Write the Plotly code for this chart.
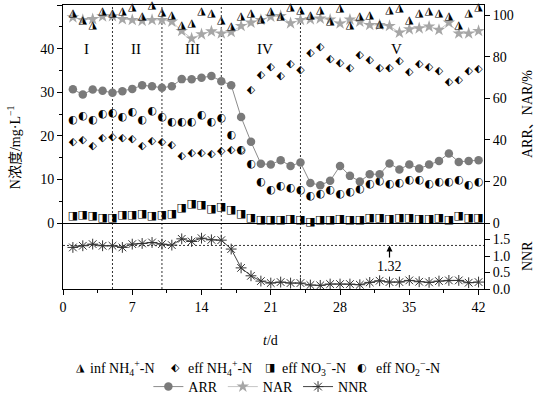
import plotly.graph_objects as go

# ---------------- data ----------------
days = [1, 2, 3, 4, 5, 6, 7, 8, 9, 10, 11, 12, 13, 14, 15, 16, 17, 18, 19, 20, 21,
        22, 23, 24, 25, 26, 27, 28, 29, 30, 31, 32, 33, 34, 35, 36, 37, 38, 39, 40, 41, 42]

inf_nh4 = [48.2, 46.4, 45.4, 48.5, 48.2, 48.5, 49.4, 47.5, 50.0, 48.4, 47.7, 45.4, 45.9, 48.5,
           48.1, 46.4, 45.2, 47.5, 48.2, 46.7, 48.5, 47.5, 49.5, 48.9, 47.7, 48.9, 46.2, 49.3,
           45.4, 47.5, 47.7, 45.6, 48.7, 49.2, 46.5, 48.1, 48.5, 48.1, 47.4, 45.4, 48.2, 49.5]
eff_nh4 = [18.6, 19.0, 17.7, 19.5, 19.7, 19.5, 19.2, 17.6, 18.7, 18.5, 17.8, 15.4, 16.0, 16.1,
           15.7, 16.4, 16.7, 16.6, 30.5, 33.9, 35.7, 33.7, 36.4, 35.1, 38.9, 40.3, 37.5, 36.7,
           35.5, 38.5, 37.4, 35.5, 35.5, 37.2, 34.5, 36.4, 35.8, 34.7, 32.2, 32.8, 34.7, 35.2]
eff_no3 = [1.5, 1.8, 1.6, 1.2, 1.0, 1.8, 1.8, 1.9, 1.6, 1.8, 1.9, 3.3, 4.3, 4.1,
           3.1, 3.7, 2.9, 2.0, 1.2, 0.6, 0.6, 0.6, 0.85, 0.6, 0.2, 0.6, 0.6, 0.8,
           0.6, 0.6, 1.0, 1.0, 0.85, 1.2, 1.2, 0.85, 0.85, 1.2, 0.6, 1.5, 1.2, 1.2]
eff_no2 = [23.6, 24.5, 23.6, 25.0, 25.1, 24.3, 25.3, 23.6, 25.7, 24.3, 23.0, 23.0, 23.0, 24.6,
           23.2, 24.0, 20.1, 16.6, 13.4, 9.4, 7.5, 8.4, 7.9, 7.5, 6.1, 6.5, 7.4, 6.7,
           7.1, 7.7, 9.0, 9.6, 9.0, 9.2, 9.8, 9.7, 8.9, 9.4, 9.4, 9.8, 8.7, 9.4]
arr = [64.4, 61.9, 64.3, 63.7, 62.7, 63.5, 64.6, 66.3, 65.9, 65.1, 65.9, 69.3, 69.2, 70.0,
       70.8, 68.3, 66.4, 51.0, 39.1, 28.5, 28.2, 30.2, 27.5, 29.1, 19.3, 18.2, 20.3, 27.5,
       22.7, 20.0, 23.5, 23.5, 28.7, 25.8, 28.2, 26.2, 28.2, 29.9, 33.5, 29.4, 29.9, 30.2]
nar = [99.1, 97.8, 98.2, 99.5, 99.6, 98.2, 97.8, 97.4, 97.8, 97.8, 97.0, 92.5, 88.9, 90.9,
       92.3, 91.3, 92.0, 94.9, 96.5, 97.8, 99.4, 99.7, 96.2, 97.8, 98.1, 98.5, 98.0, 96.1,
       98.0, 97.0, 95.4, 95.4, 94.9, 91.7, 93.3, 93.8, 94.6, 93.0, 96.5, 91.3, 91.3, 92.5]
nnr = [1.26, 1.31, 1.36, 1.31, 1.31, 1.26, 1.36, 1.38, 1.41, 1.36, 1.33, 1.52, 1.44, 1.54,
       1.49, 1.48, 1.21, 0.64, 0.40, 0.24, 0.18, 0.21, 0.18, 0.18, 0.12, 0.11, 0.15, 0.15,
       0.15, 0.13, 0.20, 0.25, 0.21, 0.21, 0.26, 0.22, 0.20, 0.24, 0.26, 0.26, 0.19, 0.21]

phase_bounds = [5, 10, 16, 24]
phase_names = ["I", "II", "III", "IV", "V"]
phase_label_x = [2.4, 7.4, 13.1, 20.4, 33.7]
phase_label_y = 40
nnr_ref = 1.32
nnr_ref_label_x = 33.0

x_range = [0, 42.55]
conc_range = [0, 50]
pct_range = [0, 105]
nnr_range = [0, 2.0]
nnr_ticks = [0, 0.5, 1.0, 1.5]
nnr_ticktext = ["0.0", "0.5", "1.0", "1.5"]

# ---------------- style ----------------
SERIF = "Liberation Serif, Times New Roman, Noto Sans CJK SC, serif"
SYM = "DejaVu Sans"
FS = 14
split = 66 / 284

fig = go.Figure()

# effluent N concentrations: half-filled glyph markers on the left axis (x, y)
half_series = [
    (eff_no3, "\u25E8"),
    (eff_no2, "\u25D0"),
    (eff_nh4, "\u2B16"),
]
for vals, glyph in half_series:
    fig.add_trace(go.Scatter(
        x=days, y=vals, mode="text", text=[glyph] * len(vals),
        textposition="middle center",
        textfont=dict(family=SYM, size=11, color="black"),
        xaxis="x", yaxis="y", showlegend=False, cliponaxis=False))

# ARR / NAR on the right axis (x, y2)
fig.add_trace(go.Scatter(
    x=days, y=arr, name="ARR", mode="lines+markers", xaxis="x", yaxis="y2",
    line=dict(color="#8c8c8c", width=1),
    marker=dict(symbol="circle", size=8.5, color="#7a7a7a")))
fig.add_trace(go.Scatter(
    x=days, y=nar, name="NAR", mode="lines+markers", xaxis="x", yaxis="y2",
    line=dict(color="#b8b8b8", width=0.8),
    marker=dict(symbol="star", size=9.5, color="#a6a6a6")))

# influent NH4 drawn on a hidden overlay of the left axis so it sits above NAR
fig.add_trace(go.Scatter(
    x=days, y=inf_nh4, mode="text", text=["\u25EE"] * len(inf_nh4),
    textposition="middle center",
    textfont=dict(family=SYM, size=11, color="black"),
    xaxis="x", yaxis="y4", showlegend=False, cliponaxis=False))

# NNR in the lower panel (x2, y3)
fig.add_trace(go.Scatter(
    x=days, y=nnr, name="NNR", mode="lines+markers", xaxis="x2", yaxis="y3",
    line=dict(color="#444444", width=1),
    marker=dict(symbol="asterisk-open", size=9, color="#333333",
                line=dict(width=1, color="#333333"))))

tickfont = dict(family=SERIF, size=FS, color="black")
tfont = dict(family=SERIF, size=FS, color="black")

shapes = []
for b in phase_bounds:
    shapes.append(dict(type="line", xref="x", yref="paper", x0=b, x1=b, y0=0, y1=1,
                       line=dict(color="#333333", width=1, dash="2px,2px"), layer="below"))
shapes.append(dict(type="line", xref="x2 domain", yref="y3", x0=0, x1=1,
                   y0=nnr_ref, y1=nnr_ref,
                   line=dict(color="#333333", width=1, dash="2px,2px"), layer="below"))

annotations = []
for name, px in zip(phase_names, phase_label_x):
    annotations.append(dict(x=px, y=phase_label_y, xref="x", yref="y", text=name,
                            xanchor="center", yanchor="middle",
                            showarrow=False, font=dict(family=SERIF, size=15, color="black")))
annotations.append(dict(x=nnr_ref_label_x, y=nnr_ref, xref="x2", yref="y3", text="1.32",
                        showarrow=True, arrowhead=2, arrowsize=1, arrowwidth=1.2,
                        arrowcolor="black", ax=0, ay=21, standoff=0, font=tfont))
annotations.append(dict(x=-0.116, y=0.5, xref="paper", yref="paper",
                        xanchor="center", yanchor="middle",
                        text="N浓度/mg·L<sup>−1</sup>", textangle=-90, showarrow=False,
                        font=tfont))
annotations.append(dict(x=1.102, y=0.616, xref="paper", yref="paper",
                        xanchor="center", yanchor="middle",
                        text="ARR、NAR/%", textangle=-90, showarrow=False, font=tfont))
annotations.append(dict(x=1.102, y=0.116, xref="paper", yref="paper",
                        xanchor="center", yanchor="middle",
                        text="NNR", textangle=-90, showarrow=False, font=tfont))
annotations.append(dict(x=0.4917, y=-0.18, xref="paper", yref="paper",
                        xanchor="center", yanchor="middle",
                        text="<i>t</i>/d", showarrow=False, font=tfont))

# legend row 1 (half-filled symbols)
leg_y = -0.278
leg_items = [
    ("\u25EE", "inf NH<sub>4</sub><sup>+</sup>-N", 0.0404, 0.0594),
    ("\u2B16", "eff NH<sub>4</sub><sup>+</sup>-N", 0.2684, 0.2922),
    ("\u25E8", "eff NO<sub>3</sub><sup>−</sup>-N", 0.4917, 0.5154),
    ("\u25D0", "eff NO<sub>2</sub><sup>−</sup>-N", 0.7102, 0.7387),
]
for glyph, label, sx, tx in leg_items:
    annotations.append(dict(x=sx, y=leg_y, xref="paper", yref="paper", text=glyph,
                            xanchor="center", yanchor="middle",
                            showarrow=False, font=dict(family=SYM, size=11, color="black")))
    annotations.append(dict(x=tx, y=leg_y, xref="paper", yref="paper", text=label,
                            xanchor="left", yanchor="middle", showarrow=False, font=tfont))

fig.update_layout(
    width=540, height=395,
    margin=dict(l=63, r=56, t=5, b=106, autoexpand=False),
    paper_bgcolor="white", plot_bgcolor="white",
    font=dict(family=SERIF, size=FS, color="black"),
    xaxis=dict(domain=[0, 1], range=x_range, anchor="y", mirror=True,
               showline=True, linecolor="black", linewidth=1,
               ticks="", showticklabels=False, showgrid=False, zeroline=False),
    xaxis2=dict(domain=[0, 1], range=x_range, anchor="y3", ticks="outside", ticklen=5,
                tickcolor="black", tickfont=tickfont,
                tickmode="linear", tick0=0, dtick=7,
                minor=dict(dtick=3.5, ticks="outside", ticklen=3, tickcolor="black"),
                showline=True, linecolor="black", linewidth=1,
                showgrid=False, zeroline=False),
    yaxis=dict(domain=[split, 1], range=conc_range, anchor="x", side="left",
               ticks="outside", ticklen=5, tickcolor="black", tickfont=tickfont,
               tickmode="linear", tick0=0, dtick=10,
               minor=dict(dtick=5, ticks="outside", ticklen=3, tickcolor="black"),
               showline=True, linecolor="black", linewidth=1,
               showgrid=False, zeroline=False),
    yaxis2=dict(range=pct_range, anchor="x", overlaying="y", side="right",
                ticks="outside", ticklen=5, tickcolor="black", tickfont=tickfont,
                tickmode="linear", tick0=0, dtick=20,
                showline=True, linecolor="black", linewidth=1,
                showgrid=False, zeroline=False),
    yaxis4=dict(range=conc_range, anchor="x", overlaying="y", side="left",
                visible=False, showgrid=False, zeroline=False),
    yaxis3=dict(domain=[0, split], range=nnr_range, anchor="x2", side="right",
                mirror=True, ticks="outside", ticklen=5, tickcolor="black",
                tickfont=tickfont, tickmode="array", tickvals=nnr_ticks,
                ticktext=nnr_ticktext,
                showline=True, linecolor="black", linewidth=1,
                showgrid=False, zeroline=False),
    showlegend=True,
    legend=dict(orientation="h", x=0.47, xanchor="center", y=-0.345, yanchor="middle",
                font=dict(family=SERIF, size=FS, color="black"), bgcolor="rgba(0,0,0,0)"),
    shapes=shapes,
    annotations=annotations,
)

fig.write_html("out.html", config={"displayModeBar": False},
               post_script="document.body.style.margin='0px';")
